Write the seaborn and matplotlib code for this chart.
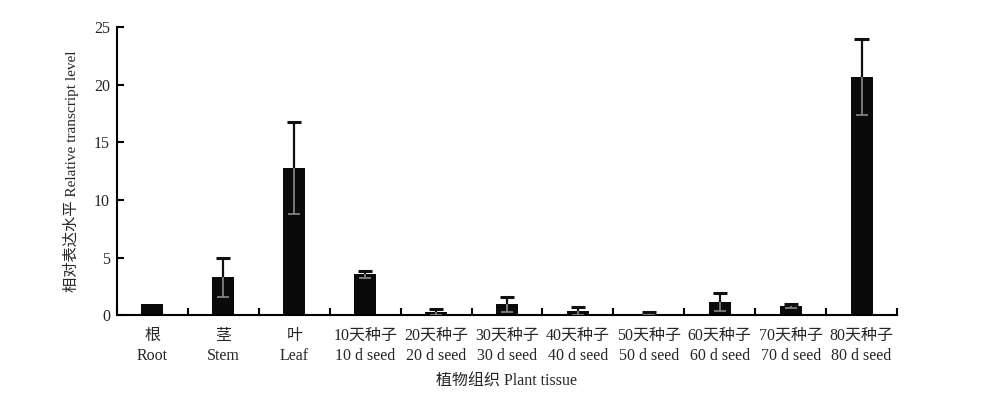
import matplotlib
matplotlib.use("Agg")
import matplotlib.pyplot as plt
import seaborn as sns
import numpy as np
import pandas as pd

cn_labels = ['根', '茎', '叶', '10天种子', '20天种子', '30天种子', '40天种子',
             '50天种子', '60天种子', '70天种子', '80天种子']
en_labels = ['Root', 'Stem', 'Leaf', '10 d seed', '20 d seed', '30 d seed', '40 d seed',
             '50 d seed', '60 d seed', '70 d seed', '80 d seed']
means = [1.0, 3.3, 12.75, 3.55, 0.23, 0.93, 0.37, 0.12, 1.16, 0.78, 20.7]
errs = [0.0, 1.7, 4.0, 0.3, 0.26, 0.64, 0.35, 0.14, 0.78, 0.18, 3.3]
yticks = [0, 5, 10, 15, 20, 25]

sns.set_style("ticks")
fam = ['Liberation Serif', 'Noto Sans CJK SC']
plt.rcParams['font.family'] = fam

labels = [f"{c}\n{e}" for c, e in zip(cn_labels, en_labels)]
df = pd.DataFrame({'tissue': labels, 'level': means})

fig = plt.figure(figsize=(10, 3.98), dpi=100)
ax = fig.add_axes([0.117, 0.2085, 0.78, 0.7225])

sns.barplot(data=df, x='tissue', y='level', color='#0a0a0a', saturation=1,
            width=0.31, ax=ax, edgecolor='none')

x = np.arange(len(means))
m = np.array(means)
e = np.array(errs)
mask = e > 0
cw = 0.1
# upper part (black)
ax.vlines(x[mask], m[mask], m[mask] + e[mask], color='#111111', lw=1.6, zorder=4)
ax.hlines(m[mask] + e[mask], x[mask] - cw, x[mask] + cw, color='#111111', lw=2.2, zorder=4)
# lower part (grey, inside bar)
ax.vlines(x[mask], m[mask] - e[mask], m[mask], color='#8a8a8a', lw=1.2, zorder=4)
ax.hlines(m[mask] - e[mask], x[mask] - cw * 0.85, x[mask] + cw * 0.85, color='#8a8a8a', lw=1.2, zorder=4)

ax.set_xlim(-0.5, len(means) - 0.5)
ax.set_ylim(0, 25)
ax.set_yticks(yticks)
ax.set_yticklabels([str(t) for t in yticks], fontsize=11.5, family=fam)

ax.set_xticks(x)
ax.set_xticklabels(labels, fontsize=11.5, family=fam, linespacing=1.35)
ax.set_xticks(np.arange(len(means) + 1) - 0.5, minor=True)
ax.tick_params(axis='x', which='major', length=0, pad=9)
ax.tick_params(axis='x', which='minor', direction='in', length=5, width=1.5, color='black')
ax.tick_params(axis='y', which='major', direction='in', length=5, width=1.5, color='black', pad=5)

for s in ['top', 'right']:
    ax.spines[s].set_visible(False)
for s in ['left', 'bottom']:
    ax.spines[s].set_linewidth(1.5)
    ax.spines[s].set_color('black')

ax.set_xlabel('植物组织 Plant tissue', fontsize=11.5, family=fam, labelpad=7)
ax.set_ylabel('相对表达水平 Relative transcript level', fontsize=11, family=fam, labelpad=11)

fig.savefig('out.png', dpi=100)
